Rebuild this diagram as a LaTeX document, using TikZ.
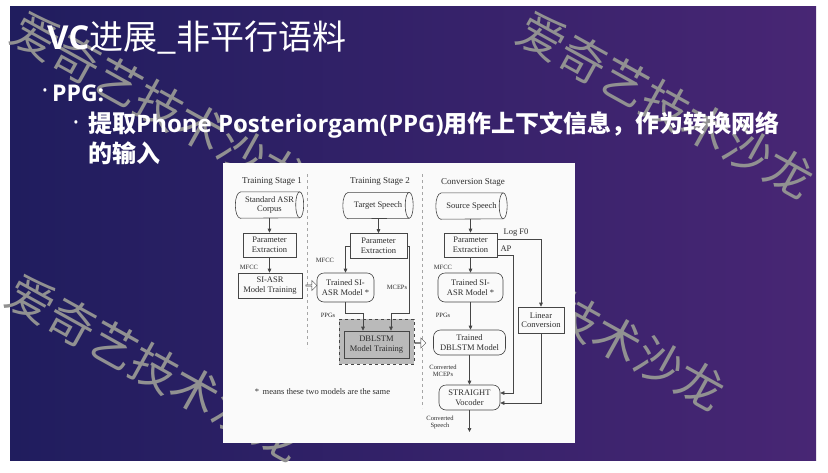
\documentclass[tikz,border=0pt]{standalone}
\usepackage{fontspec}
\setmainfont{Open Sans}
\newfontfamily\cjk{Noto Sans CJK SC}
\newfontfamily\tms{Liberation Serif}
\usetikzlibrary{arrows.meta,shapes.arrows,calc}
\definecolor{bgL}{RGB}{32,29,94}
\definecolor{bgR}{RGB}{72,38,116}
\definecolor{wm}{RGB}{145,145,145}
\definecolor{ln}{RGB}{70,70,70}
\definecolor{tx}{RGB}{45,45,45}
\definecolor{paper}{RGB}{250,250,250}
\newcommand\drawcylout[1]{%
  \draw[ln,line width=0.6pt] ($(#1.north west)+(5,0)$) -- ($(#1.north east)+(-4,0)$)
    arc[start angle=90,end angle=-90,x radius=4,y radius=13]
    -- ($(#1.south west)+(5,0)$)
    arc[start angle=270,end angle=90,x radius=5,y radius=13] -- cycle;
  \draw[ln,line width=0.6pt] ($(#1.north east)+(-4,0)$) arc[start angle=90,end angle=270,x radius=4,y radius=13];}
\begin{document}
\begin{tikzpicture}[x=1pt,y=1pt,
  box/.style={draw=ln,line width=0.6pt,text=tx,font=\tms\fontsize{8.5}{9.5}\selectfont,align=center,inner sep=0pt},
  rbox/.style={box,rounded corners=7pt},
  cylnode/.style={text=tx,font=\tms\fontsize{8.5}{9.5}\selectfont,align=center,inner sep=0pt,minimum height=26},
  hdr/.style={text=tx,font=\tms\fontsize{9}{10}\selectfont,inner sep=0pt},
  lab/.style={text=tx,font=\tms\fontsize{6.5}{7}\selectfont,align=center,inner sep=0pt},
  labb/.style={text=tx,font=\tms\fontsize{8.5}{9}\selectfont,inner sep=0pt},
  arr/.style={draw=ln,line width=0.6pt,-{Triangle[length=4pt,width=3.6pt]}},
  sepline/.style={draw=gray!70,dashed,line width=0.5pt},
  hollow/.style={single arrow,draw=ln,fill=white,line width=0.5pt,minimum height=11pt,minimum width=10pt,single arrow head extend=1.5pt,inner sep=0pt},
  wmark/.style={text=wm,font=\cjk\fontsize{47}{47}\selectfont,rotate=-29,inner sep=0pt},
  slidetxt/.style={text=white,inner sep=0pt}
]
\useasboundingbox (0,0) rectangle (828,-472);
\fill[white] (0,0) rectangle (828,-472);
\shade[left color=bgL,right color=bgR] (10,-6) rectangle (816,-460);

% watermarks
\node[wmark] (wm1) at (160,-105) {爱奇艺技术沙龙};
\node[wmark] (wm2) at (666,-105) {爱奇艺技术沙龙};
\node[wmark] (wm3) at (155,-368) {爱奇艺技术沙龙};
\node[wmark] (wm4) at (577,-317) {爱奇艺技术沙龙};

% slide text
\node[slidetxt,anchor=base west] (title) at (47,-49) {\fontsize{33}{33}\selectfont\bfseries VC{\cjk\mdseries\fontsize{34}{34}\selectfont 进展\_非平行语料}};
\node[slidetxt] (dot1) at (45,-92) {\fontsize{14}{14}\selectfont •};
\node[slidetxt,anchor=base west] (b1) at (52,-101) {\fontsize{23}{23}\selectfont\bfseries PPG:};
\node[slidetxt] (dot2) at (76,-124) {\fontsize{14}{14}\selectfont •};
\node[slidetxt,anchor=base west] (l1) at (88,-132) {\fontsize{24}{24}\selectfont\bfseries{\cjk 提取}Phone Posteriorgam(PPG){\cjk 用作上下文信息，作为转换网络}};
\node[slidetxt,anchor=base west] (l2) at (88,-162) {\fontsize{24}{24}\selectfont\bfseries{\cjk 的输入}};

% figure
\node[fill=paper,minimum width=352,minimum height=280,inner sep=0pt] (fig) at (399,-303) {};
\node[hdr] (h1) at (272,-181) {Training Stage 1};
\node[hdr] (h2) at (380,-181) {Training Stage 2};
\node[hdr] (h3) at (473,-182) {Conversion Stage};
\draw[sepline] (307,-174) -- (307,-348);
\draw[sepline] (422,-174) -- (422,-408);

% stage 1
\node[cylnode,minimum width=68] (cA) at (269.5,-205) {Standard ASR\\Corpus};
\drawcylout{cA}
\node[box,minimum width=53,minimum height=24] (pe1) at (269.5,-245) {Parameter\\Extraction};
\node[box,minimum width=64,minimum height=25] (si1) at (270,-285.5) {SI-ASR\\Model Training};
\draw[arr] (cA.south -| pe1.north) -- (pe1.north);
\draw[arr] (pe1.south) -- (pe1.south |- si1.north);
\node[lab] (mf1) at (249,-267) {MFCC};

% stage 2
\node[cylnode,minimum width=70] (cB) at (378,-205.5) {Target Speech};
\drawcylout{cB}
\node[box,minimum width=57,minimum height=25] (pe2) at (378.5,-246) {Parameter\\Extraction};
\node[rbox,minimum width=57,minimum height=29] (ts2) at (345.5,-287.5) {Trained SI-\\ASR Model *};
\node[draw=ln,dashed,line width=0.5pt,fill=black!27,minimum width=75,minimum height=45,inner sep=0pt] (dbo) at (376.5,-341.5) {};
\node[box,fill=black!27,minimum width=65,minimum height=27] (dbi) at (376.5,-344.5) {DBLSTM\\Model Training};
\draw[arr] (cB.south -| pe2.north) -- (pe2.north);
\draw[arr] (pe2.west) -| (ts2.north);
\node[lab] (mf2) at (325,-260) {MFCC};
\coordinate (mc) at (391,-313);
\coordinate (pp) at (363,-313);
\draw[arr] (pe2.east) -- ++(1.5,0) |- (mc) -- (mc |- dbi.north);
\draw[arr] (ts2.south) |- (pp) -- (pp |- dbi.north);
\node[lab] (mce) at (397,-287) {MCEPs};
\node[lab] (ppg2) at (328,-315) {PPGs};
\node[hollow] (ha1) at (311,-285.5) {};
\node[hollow] (ha2) at (420,-343) {};
\node[text=tx,font=\tms\fontsize{8.5}{9}\selectfont,inner sep=0pt] (note) at (322.5,-392) {*\, means these two models are the same};

% conversion stage
\node[cylnode,minimum width=71] (cC) at (471.5,-206) {Source Speech};
\drawcylout{cC}
\node[box,minimum width=53,minimum height=24] (pe3) at (470.5,-245) {Parameter\\Extraction};
\node[rbox,minimum width=65,minimum height=29] (ts3) at (470.5,-287.5) {Trained SI-\\ASR Model *};
\node[box,minimum width=46,minimum height=26] (lin) at (541,-320) {Linear\\Conversion};
\node[rbox,minimum width=72,minimum height=25] (tdb) at (469.5,-342.5) {Trained\\DBLSTM Model};
\node[rbox,minimum width=61,minimum height=25] (str) at (469.5,-397.5) {STRAIGHT\\Vocoder};
\coordinate (out) at (469.5,-432);
\draw[arr] (cC.south -| pe3.north) -- (pe3.north);
\draw[arr] (pe3.south) -- (pe3.south |- ts3.north);
\node[lab] (mf3) at (443,-267) {MFCC};
\draw[arr] (ts3.south) -- (ts3.south |- tdb.north);
\node[lab] (ppg3) at (443,-315) {PPGs};
\draw[arr] (tdb.south) -- (tdb.south |- str.north);
\node[lab] (cm) at (443,-371) {Converted\\MCEPs};
\draw[arr] (str.south) -- (out);
\node[lab] (cs) at (440,-422) {Converted\\Speech};
\draw[arr] ($(pe3.north east)!0.25!(pe3.south east)$) -| (lin.north);
\node[labb] (lf0) at (516,-233) {Log F0};
\coordinate (ap) at (513,-393);
\draw[arr] ($(pe3.north east)!0.92!(pe3.south east)$) -| (ap) -- (ap -| str.east);
\node[labb] (apl) at (506,-249) {AP};
\coordinate (lc) at (541,-403);
\draw[arr] (lin.south) |- (lc -| str.east);
\end{tikzpicture}
\end{document}
